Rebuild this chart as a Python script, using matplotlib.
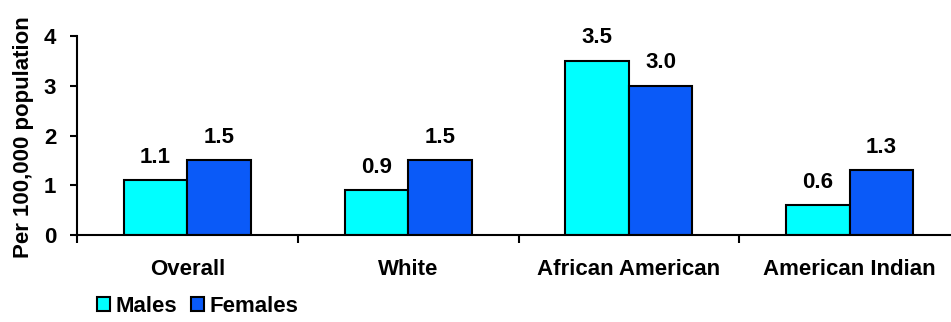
import matplotlib
matplotlib.use("Agg")
import matplotlib.pyplot as plt
import numpy as np
from matplotlib.patches import Patch

categories = ["Overall", "White", "African American", "American Indian"]
males = [1.1, 0.9, 3.5, 0.6]
females = [1.5, 1.5, 3.0, 1.3]
yticks = [0, 1, 2, 3, 4]

plt.rcParams['font.family'] = ['Liberation Sans', 'DejaVu Sans']
plt.rcParams['font.weight'] = 'bold'

FS = 16

fig = plt.figure(figsize=(9.51, 3.22), dpi=100)
ax = fig.add_axes([77 / 951, 1 - 235 / 322, (960 - 77) / 951, (235 - 36) / 322])

male_color = "#00FFFF"
female_color = "#0A5AF8"
x = np.arange(len(categories)) + 0.5
w = 0.288

mb = ax.bar(x - w / 2, males, w, color=male_color, edgecolor="black", linewidth=1.5)
fb = ax.bar(x + w / 2, females, w, color=female_color, edgecolor="black", linewidth=1.5)

for bars, vals in ((mb, males), (fb, females)):
    for b, v in zip(bars, vals):
        ax.annotate(f"{v:.1f}", (b.get_x() + b.get_width() / 2, v),
                    xytext=(0, 9), textcoords="offset points",
                    ha="center", va="bottom", fontsize=FS, fontweight="bold")

ax.set_xlim(0, len(categories))
ax.set_ylim(0, 4)
ax.set_yticks(yticks)
ax.set_yticklabels([str(t) for t in yticks], fontsize=FS, fontweight="bold")
ax.set_xticks(np.arange(len(categories) + 1))
ax.set_xticklabels([])
ax.set_xticks(x, minor=True)
ax.set_xticklabels(categories, minor=True, fontsize=FS, fontweight="bold")
ax.tick_params(axis="x", which="minor", length=0, pad=17)
ax.tick_params(axis="x", which="major", length=6, width=1.5, direction="out")
ax.tick_params(axis="y", length=5, width=1.5, direction="out", pad=10)

for s in ("top", "right"):
    ax.spines[s].set_visible(False)
for s in ("left", "bottom"):
    ax.spines[s].set_linewidth(1.5)

fig.text(24 / 951, 1 - 137 / 322, "Per 100,000 population", rotation=90,
         ha="center", va="center", fontsize=FS, fontweight="bold")

handles = [Patch(facecolor=male_color, edgecolor="black", linewidth=1.5, label="Males"),
           Patch(facecolor=female_color, edgecolor="black", linewidth=1.5, label="Females")]
fig.legend(handles=handles, loc="center left", bbox_to_anchor=(97 / 951, 1 - 306 / 322),
           ncol=2, frameon=False, handlelength=0.6, handleheight=0.6,
           handletextpad=0.25, columnspacing=0.6, borderaxespad=0, borderpad=0,
           prop={"weight": "bold", "size": FS})

fig.savefig("out.png", dpi=100)
